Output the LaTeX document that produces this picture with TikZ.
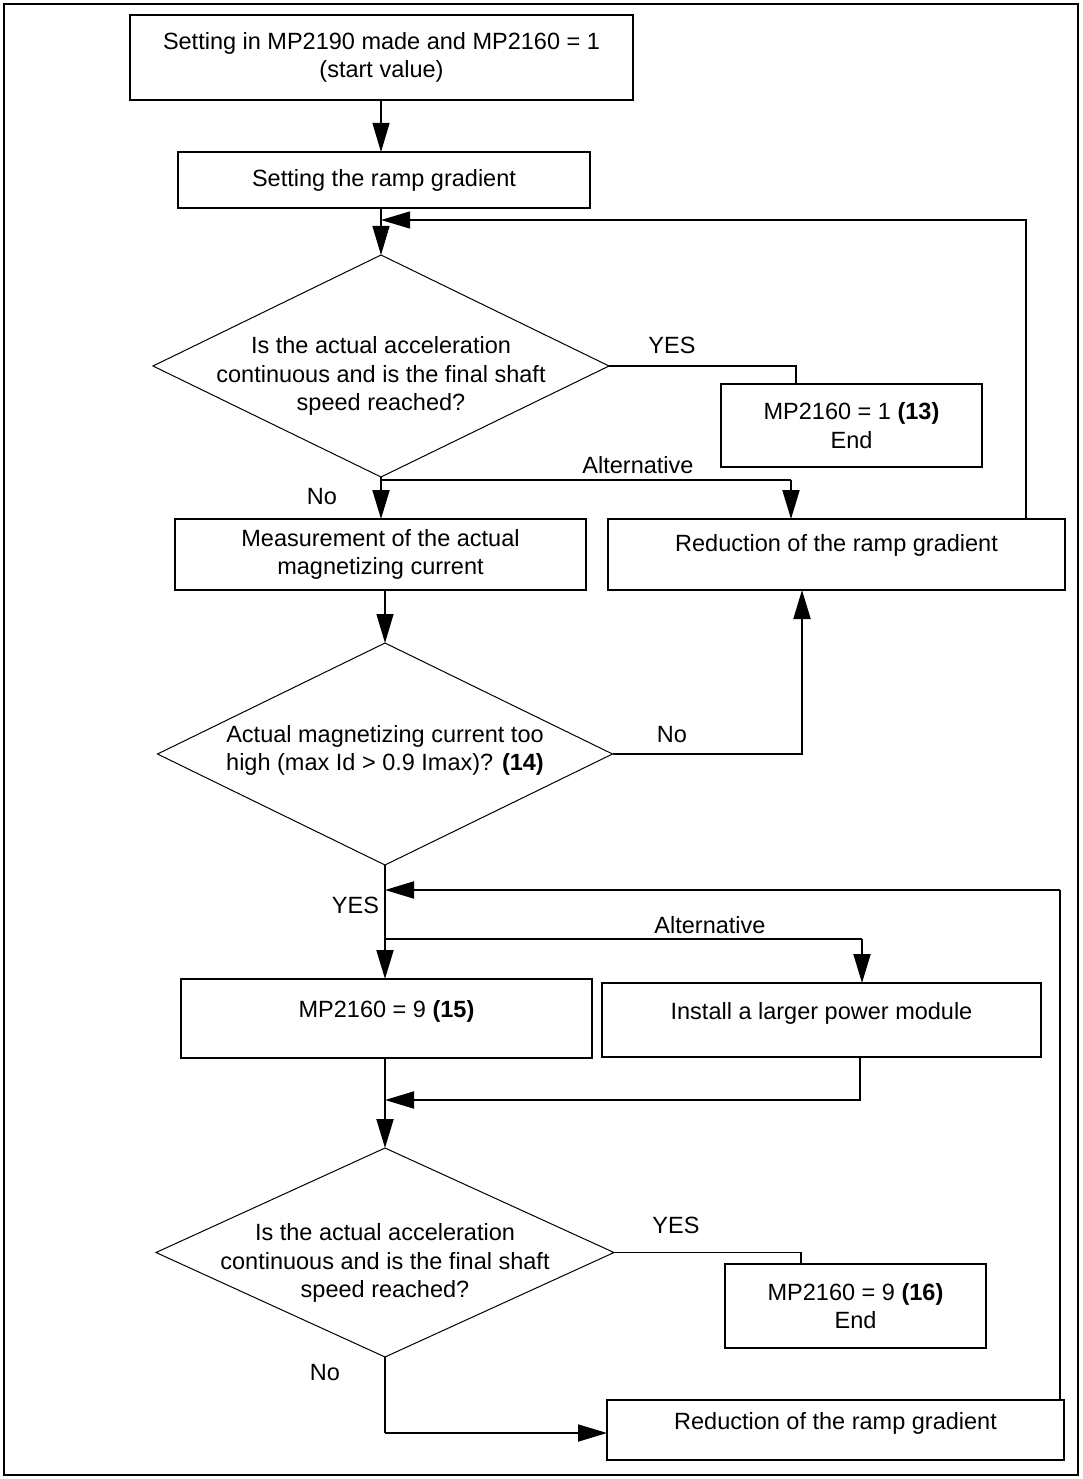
\documentclass[tikz,border=0pt]{standalone}
\usepackage{fontspec}
\setmainfont{Liberation Sans}
\usetikzlibrary{shapes.geometric,arrows.meta}
\newcommand{\dtxt}[2]{\makebox[0pt]{\raisebox{#1}[0pt][0pt]{\begin{tabular}{@{}c@{}}#2\end{tabular}}}}
\begin{document}
\begin{tikzpicture}[x=1pt,y=-1pt,
  every node/.style={font=\fontsize{23.5}{28.5}\selectfont, inner sep=0pt, outer sep=0pt},
  box/.style={draw, line width=1.9pt, rectangle, align=center},
  dia/.style={draw, line width=1pt, diamond},
  lnA/.style={line width=1.1pt},
  lnB/.style={line width=1.9pt},
  tip/.style={-{Triangle[length=29pt,width=17pt]}}
]
\useasboundingbox (0,0) rectangle (1082,1479);
\draw[line width=2pt] (4,4) rectangle (1078,1475);

% nodes
\node[box, minimum width=503pt, minimum height=85pt] (b1) at (381.5,57.5)
  {Setting in MP2190 made and MP2160 = 1\\(start value)};
\node[box, minimum width=412pt, minimum height=56pt] (b2) at (384,180)
  {Setting the ramp gradient};
\node[dia, minimum width=456pt, minimum height=222pt] (d1) at (381,366)
  {\dtxt{-17pt}{Is the actual acceleration\\continuous and is the final shaft\\speed reached?}};
\node[box, minimum width=261pt, minimum height=83pt] (e1) at (851.5,425.5)
  {MP2160 = 1 \textbf{(13)}\\End};
\node[box, minimum width=411pt, minimum height=71pt] (m1) at (380.5,554.5)
  {Measurement of the actual\\magnetizing current};
\node[box, minimum width=457pt, minimum height=71pt, text depth=23pt] (r1) at (836.5,554.5)
  {Reduction of the ramp gradient};
\node[dia, minimum width=455pt, minimum height=222pt] (d2) at (385,754)
  {\dtxt{-3pt}{Actual magnetizing current too\\high (max Id > 0.9 Imax)? \textbf{(14)}}};
\node[box, minimum width=411pt, minimum height=79pt, text depth=19pt] (m9) at (386.5,1018.5)
  {MP2160 = 9 \textbf{(15)}};
\node[box, minimum width=439pt, minimum height=74pt, text depth=19pt] (inst) at (821.5,1020)
  {Install a larger power module};
\node[dia, minimum width=458pt, minimum height=209pt] (d3) at (385,1252.5)
  {\dtxt{-17.5pt}{Is the actual acceleration\\continuous and is the final shaft\\speed reached?}};
\node[box, minimum width=261pt, minimum height=84pt] (e2) at (855.5,1306)
  {MP2160 = 9 \textbf{(16)}\\End};
\node[box, minimum width=457pt, minimum height=60pt, text depth=19pt] (r2) at (835.5,1430)
  {Reduction of the ramp gradient};

% labels
\node (y1) at (672,345) {YES};
\node (al1) at (638,465) {Alternative};
\node (n1) at (322,497) {No};
\node (n2) at (672,735) {No};
\node[anchor=east] (y2) at (379,905) {YES};
\node (al2) at (710,925) {Alternative};
\node (y3) at (676,1225) {YES};
\node (n3) at (325,1373) {No};

% junction coordinates
\coordinate (k1) at (1026,220);
\coordinate (k2) at (796,366);
\coordinate (a1) at (381,480);
\coordinate (a1r) at (791,480);
\coordinate (k3) at (802,754);
\coordinate (a2) at (385,939);
\coordinate (k4) at (1060,890);
\coordinate (a3) at (862,939);
\coordinate (k5) at (860,1100);
\coordinate (k6) at (801,1252.5);
\coordinate (k7) at (385,1433);

% connectors
\draw[lnA,tip] (b1.south -| d1) -- (b2.north -| d1);
\draw[lnA,tip] (b2.south -| d1) -- (d1.north);
\draw[lnA,tip] (r1.north -| k1) -- (k1) -- (k1 -| d1);
\draw[lnB] (d1.east) -- (k2) -- (k2 |- e1.north);
\draw[lnA] (a1) -- (a1r);
\draw[lnB,tip] (a1r) -- (a1r |- r1.north);
\draw[lnB,tip] (d1.south) -- (m1.north -| d1);
\draw[lnA,tip] (m1.south -| d2) -- (d2.north);
\draw[lnB,tip] (d2.east) -- (k3) -- (k3 |- r1.south);
\draw[lnA] (d2.south) -- (a2);
\draw[lnB,tip] (a2) -- (m9.north -| d2);
\draw[lnA] (r2.north -| k4) -- (k4);
\draw[lnB,tip] (k4) -- (k4 -| d2);
\draw[lnB] (a2) -- (a3);
\draw[lnB,tip] (a3) -- (a3 |- inst.north);
\draw[lnB,tip] (inst.south -| k5) -- (k5) -- (k5 -| d2);
\draw[lnB,tip] (m9.south -| d2) -- (d3.north);
\draw[lnB] (d3.east) -- (k6) -- (k6 |- e2.north);
\draw[lnA] (d3.south) -- (k7);
\draw[lnB,tip] (k7) -- (k7 -| r2.west);
\end{tikzpicture}
\end{document}
